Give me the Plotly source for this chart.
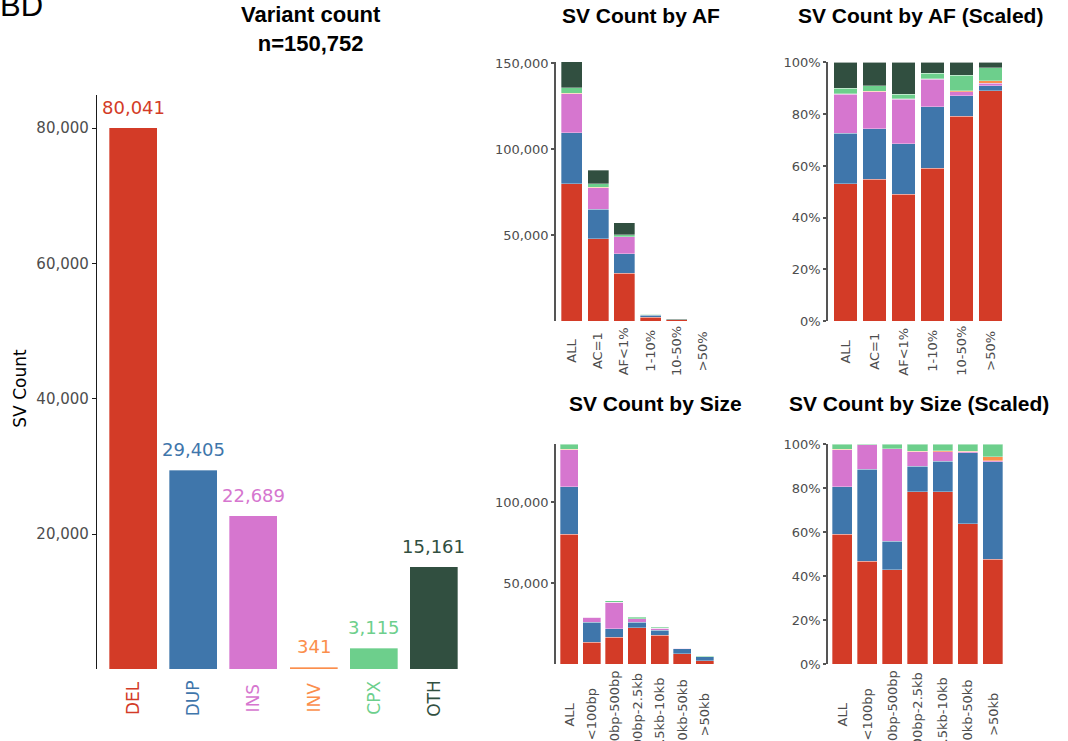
import plotly.graph_objects as go

W, H = 1068, 741

# SV classes, their colours and genome-wide counts
sv_types = ["DEL", "DUP", "INS", "INV", "CPX", "OTH"]
sv_colors = ["#D33B27", "#3F76AB", "#D676CF", "#FB8E4C", "#6DCF8C", "#314F40"]
sv_counts = [80041, 29405, 22689, 341, 3115, 15161]

# Counts per allele-frequency bin
af_bins = ["ALL", "AC=1", "AF<1%", "1-10%", "10-50%", ">50%"]
af_del = [80041, 48150, 28124, 2550, 950, 267]
af_dup = [29405, 17100, 11182, 1023, 94, 6]
af_ins = [22689, 12420, 9790, 456, 20, 3]
af_inv = [341, 200, 121, 13, 4, 3]
af_cpx = [3115, 1930, 1004, 95, 71, 15]
af_oth = [15161, 7850, 7069, 176, 60, 6]

# Counts per size bin
size_bins = ["ALL", "<100bp", "100bp-500bp", "500bp-2.5kb", "2.5kb-10kb", "10kb-50kb", ">50kb"]
size_del = [80041, 13670, 16820, 22700, 17950, 6510, 2430]
size_dup = [29405, 12200, 5080, 3400, 3160, 3280, 2260]
size_ins = [22689, 3250, 16460, 1880, 1030, 50, 25]
size_inv = [341, 20, 60, 90, 60, 20, 90]
size_cpx = [3115, 80, 790, 930, 710, 340, 295]

TICK_FONT = "DejaVu Sans"
TITLE_FONT = "Liberation Sans, Arial, sans-serif"
GREY = "#4d4d4d"

# vertical placement on the page: page row -> figure row
Y_OFF, Y_SCALE = 7.4, 0.977


def px_x(p):
    return p / W


def px_y(p):
    return 1 - ((p - Y_OFF) / Y_SCALE) / H


def percent(series):
    totals = [sum(col) for col in zip(*series)]
    return [[v / t * 100 for v, t in zip(s, totals)] for s in series]


fig = go.Figure()
edge = dict(color="rgba(255,255,255,0.55)", width=0.6)

# Left panel: one bar per SV class
fig.add_trace(go.Bar(x=sv_types, y=sv_counts, marker=dict(color=sv_colors, line=edge),
                     xaxis="x", yaxis="y", showlegend=False))

af_series = [af_del, af_dup, af_ins, af_inv, af_cpx, af_oth]
size_series = [size_del, size_dup, size_ins, size_inv, size_cpx]

for s, c in zip(af_series, sv_colors):
    fig.add_trace(go.Bar(x=af_bins, y=s, marker=dict(color=c, line=edge),
                         xaxis="x2", yaxis="y2", showlegend=False))
for s, c in zip(percent(af_series), sv_colors):
    fig.add_trace(go.Bar(x=af_bins, y=s, marker=dict(color=c, line=edge),
                         xaxis="x3", yaxis="y3", showlegend=False))
for s, c in zip(size_series, sv_colors):
    fig.add_trace(go.Bar(x=size_bins, y=s, marker=dict(color=c, line=edge),
                         xaxis="x4", yaxis="y4", showlegend=False))
for s, c in zip(percent(size_series), sv_colors):
    fig.add_trace(go.Bar(x=size_bins, y=s, marker=dict(color=c, line=edge),
                         xaxis="x5", yaxis="y5", showlegend=False))


def xax(x0, x1, n, pad, anchor):
    return dict(domain=[px_x(x0), px_x(x1)], range=[-pad, n - 1 + pad], type="category",
                anchor=anchor, showticklabels=False, showline=False, ticks="", showgrid=False,
                zeroline=False, fixedrange=True)


def yax(y0, y1, rng, vals, text, fs, lc, lw, tl, anchor):
    return dict(domain=[px_y(y1), px_y(y0)], range=rng, anchor=anchor, showgrid=False,
                zeroline=False, showline=True, linecolor=lc, linewidth=lw, ticks="outside",
                ticklen=tl, tickcolor=lc, tickwidth=lw, tickvals=vals, ticktext=text,
                tickfont=dict(family=TICK_FONT, size=fs, color=GREY), fixedrange=True)


main_ticks = [20000, 40000, 60000, 80000]
af_ticks = [50000, 100000, 150000]
size_ticks = [50000, 100000]
pct_ticks = [0, 20, 40, 60, 80, 100]
pct_text = [f"{v}%" for v in pct_ticks]

fig.update_layout(
    width=W, height=H, margin=dict(l=0, r=0, t=0, b=0),
    paper_bgcolor="white", plot_bgcolor="white",
    barmode="stack", bargap=0.2,
    xaxis=xax(97, 470, len(sv_types), 0.6, "y"),
    yaxis=yax(95, 668, [0, 84900], main_ticks, [f"{v:,}" for v in main_ticks], 15,
              "#1a1a1a", 1.3, 4, "x"),
    xaxis2=xax(556, 719, len(af_bins), 0.6, "y2"),
    yaxis2=yax(62, 321, [0, sum(sv_counts)], af_ticks, [f"{v:,}" for v in af_ticks], 13,
               "#555555", 1.5, 3, "x2"),
    xaxis3=xax(828, 1008, len(af_bins), 0.6, "y3"),
    yaxis3=yax(62.7, 320.7, [0, 100], pct_ticks, pct_text, 13, "#555555", 1.5, 3, "x3"),
    xaxis4=xax(556, 718, len(size_bins), 0.58, "y4"),
    yaxis4=yax(443.3, 663, [0, sum(sv_counts[:5])], size_ticks, [f"{v:,}" for v in size_ticks],
               13, "#555555", 1.5, 3, "x4"),
    xaxis5=xax(828, 1007, len(size_bins), 0.57, "y5"),
    yaxis5=yax(443.3, 662.7, [0, 100], pct_ticks, pct_text, 13, "#555555", 1.5, 3, "x5"),
)

ann = []

# Value labels above the class bars, class names below
for t, v, c in zip(sv_types, sv_counts, sv_colors):
    ann.append(dict(x=t, y=v, xref="x", yref="y", text=f"{v:,}", showarrow=False,
                    xanchor="center", yanchor="bottom", yshift=8,
                    font=dict(family=TICK_FONT, size=18, color=c)))
    ann.append(dict(x=t, y=0, xref="x", yref="y", text=t, showarrow=False, textangle=-90,
                    xanchor="center", yanchor="middle", yshift=-28.5,
                    font=dict(family=TICK_FONT, size=17, color=c)))

# Rotated category labels under the small panels
for xr, yr, cats, shift in [("x2", "y2", af_bins, -29.5), ("x3", "y3", af_bins, -30),
                            ("x4", "y4", size_bins, -50), ("x5", "y5", size_bins, -50)]:
    for cat in cats:
        ann.append(dict(x=cat, y=0, xref=xr, yref=yr, text=cat, showarrow=False, textangle=-90,
                        xanchor="center", yanchor="middle", yshift=shift,
                        font=dict(family=TICK_FONT, size=13, color=GREY)))

# Axis title of the class panel
ann.append(dict(x=px_x(20), y=px_y(388), xref="paper", yref="paper", text="SV Count",
                showarrow=False, textangle=-90, xanchor="center", yanchor="middle",
                font=dict(family=TICK_FONT, size=17, color="black")))

# Panel titles
titles = [
    (f"<b>Variant count</b><br><b>n={sum(sv_counts):,}</b>", 311, 29, 22),
    ("<b>SV Count by AF</b>", 641, 16, 21),
    ("<b>SV Count by AF (Scaled)</b>", 920, 16, 21),
    ("<b>SV Count by Size</b>", 655, 402.5, 21),
    ("<b>SV Count by Size (Scaled)</b>", 919, 402.5, 21),
]
for text, cx, cy, fs in titles:
    ann.append(dict(x=px_x(cx), y=px_y(cy), xref="paper", yref="paper", text=text,
                    showarrow=False, xanchor="center", yanchor="middle",
                    font=dict(family=TITLE_FONT, size=fs, color="black")))

# Panel letter in the corner
ann.append(dict(x=px_x(-2), y=px_y(6), xref="paper", yref="paper", text="BD",
                showarrow=False, xanchor="left", yanchor="middle",
                font=dict(family=TITLE_FONT, size=31, color="black")))

fig.update_layout(annotations=ann)
fig.write_html("out.html")
